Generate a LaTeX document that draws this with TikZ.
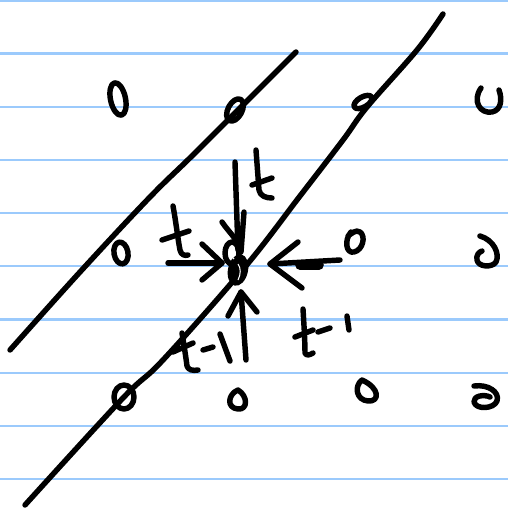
\documentclass[tikz,border=0pt]{standalone}
\definecolor{ruleblue}{RGB}{155,202,252}
\tikzset{
  pen/.style={line width=3.1pt, line cap=round, line join=round, black},
  rulerline/.style={line width=1.3pt, ruleblue},
}
\begin{document}
\begin{tikzpicture}[x=0.02cm,y=-0.02cm]
\useasboundingbox (0,0) rectangle (508,512);
\fill[white] (0,0) rectangle (508,512);
% ruled paper
\foreach \yy in {0.8,53.5,106.7,159.9,213.1,266.3,319.5,372.7,425.9,479.1}
  \draw[rulerline] (0,\yy) -- (508,\yy);

% diagonal lines
\draw[pen] plot[smooth, tension=0.6] coordinates {(10,350) (80,272) (150,197) (198,150) (296,52)};
\draw[pen] plot[smooth, tension=0.6] coordinates {(25,505) (123,398) (163,360) (245,267) (300,196) (343,140) (367,107) (417,50) (443,14)};

% zeros, row 1
\draw[pen] (118,99) ellipse [x radius=7.5, y radius=16.5, rotate=12];
\draw[pen] (235,110) ellipse [x radius=7, y radius=12, rotate=-28];
\draw[pen] (363,102) ellipse [x radius=10, y radius=5, rotate=30];
\draw[pen] (481,88) .. controls (472,101) and (480,114) .. (492,112) .. controls (502,110) and (502,98) .. (499,90);
% row 2
\draw[pen] (121,253) ellipse [x radius=7, y radius=11, rotate=10];
\draw[pen] (351,232) .. controls (344,240) and (346,254) .. (354,252) .. controls (363,250) and (366,236) .. (360,232) .. controls (356,229) and (351,234) .. (348,236);
\draw[pen] (480,236) .. controls (494,240) and (500,254) .. (496,262) .. controls (492,268) and (478,267) .. (477,260) .. controls (476,255) and (479,252) .. (482,251);
% row 3
\draw[pen] (124,397) ellipse [x radius=10, y radius=12];
\draw[pen] (238,390) .. controls (228,394) and (226,408) .. (238,409) .. controls (248,410) and (248,396) .. (238,390);
\draw[pen] (362,380) .. controls (354,386) and (356,400) .. (368,401) .. controls (380,402) and (380,388) .. (362,380);
\draw[pen] (474,386) .. controls (488,384) and (500,392) .. (497,401) .. controls (494,409) and (476,410) .. (474,402) .. controls (473,396) and (484,394) .. (490,397);

% central point
\coordinate (centre) at (238,270);
\fill[black] (centre) ellipse [x radius=10, y radius=16, rotate=-12];
\draw[pen] (232,253) ellipse [x radius=7, y radius=11];
\draw[white, line width=0.7pt] (233,247) .. controls (230,251) and (231,257) .. (234,259);
\draw[white, line width=0.6pt] (238,264) .. controls (241,268) and (241,274) .. (238,280);

% down arrow with label t
\coordinate (dtop) at (235,162);
\coordinate (dtip) at (238,250);
\draw[pen] (dtop) -- (dtip);
\draw[pen] (244,212) -- (241,252);
\draw[pen] (222,222) .. controls (226,228) and (230,232) .. (236,240);
\draw[pen] (256,150) -- (259,190) .. controls (260,196) and (266,198) .. (272,198);
\draw[pen] (252,185) -- (272,178);

% left arrow with label t
\coordinate (ltail) at (168,263);
\coordinate (ltip) at (222,263);
\draw[pen] (ltail) -- (ltip);
\draw[pen] (202,244) -- (ltip) -- (202,280);
\draw[pen] (173,206) .. controls (176,222) and (178,240) .. (180,250) .. controls (181,255) and (185,256) .. (188,255);
\draw[pen] (162,240) -- (189,231);

% right arrow (pointing left) with label 0
\coordinate (rtail) at (340,260);
\coordinate (rtip) at (270,264);
\draw[pen] (rtail) -- (rtip);
\draw[line width=5.5pt, line cap=round] (300,265) -- (319,265);
\draw[pen] (298,242) -- (rtip) -- (302,288);

% up arrow with label t-1
\coordinate (utail) at (246,360);
\coordinate (utip) at (241,292);
\draw[pen] (utail) -- (utip);
\draw[pen] (228,316) -- (utip) -- (257,312);

% label t-1 (left)
\draw[pen] (182,333) .. controls (184,345) and (186,358) .. (187,366) .. controls (188,370) and (193,371) .. (198,370);
\draw[pen] (173,352) -- (193,343);
\draw[pen] (203,350) -- (213,347);
\draw[pen] (220,334) -- (230,361);

% label t-1 (right)
\draw[pen] (303,309) .. controls (304,325) and (305,342) .. (305,353) .. controls (306,356) and (310,355) .. (313,353);
\draw[pen] (295,337) -- (313,330);
\draw[pen] (318,332) -- (330,328);
\draw[pen] (347,316) -- (349,330);
\end{tikzpicture}
\end{document}
